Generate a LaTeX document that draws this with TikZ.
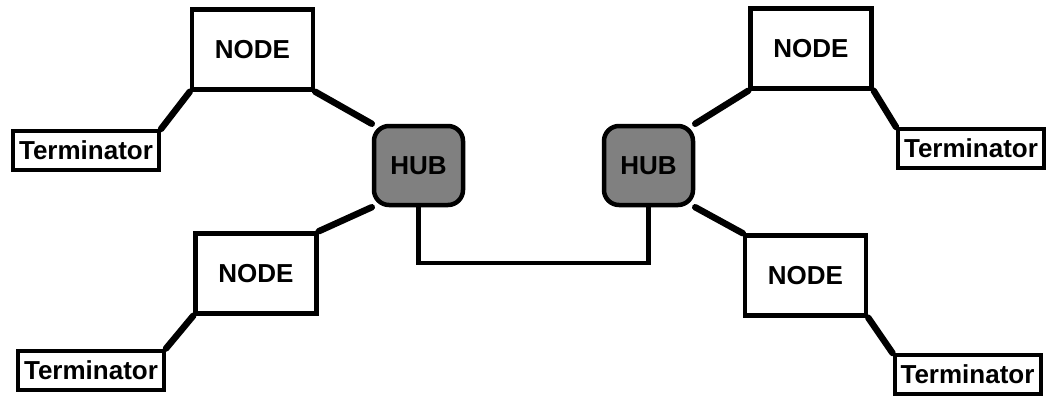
\documentclass[tikz,border=0pt]{standalone}
\usepackage{fontspec}
\setmainfont{Liberation Sans}
\pgfdeclarelayer{foreground}
\pgfsetlayers{main,foreground}
\begin{document}
\begin{tikzpicture}[x=1pt,y=-1pt,
  box/.style={draw=black, line width=4.5pt, fill=white, inner sep=0pt, font=\fontsize{26}{30}\selectfont\bfseries},
  nodebox/.style={box, minimum width=121pt, minimum height=80pt},
  termbox/.style={box, line width=4pt, minimum width=146pt, minimum height=39pt},
  hubbox/.style={box, fill=hubgray, rounded corners=15pt, minimum width=89pt, minimum height=79pt},
  wire/.style={line width=6.5pt, line cap=round},
  link/.style={line width=4.5pt, line join=miter}]
\definecolor{hubgray}{HTML}{808080}
\useasboundingbox (0,0) rectangle (1048,396);
\node[nodebox] (n1) at (252.5,49.5) {NODE};
\node[termbox] (t1) at (86,150.5) {Terminator};
\node[nodebox] (n2) at (256,273.5) {NODE};
\node[termbox] (t2) at (91,370) {Terminator};
\begin{pgfonlayer}{foreground}
\node[hubbox] (h1) at (418.5,165.5) {HUB};
\node[hubbox] (h2) at (648.5,165.5) {HUB};
\end{pgfonlayer}
\node[nodebox] (n3) at (811,48.5) {NODE};
\node[termbox] (t3) at (971,148.5) {Terminator};
\node[nodebox] (n4) at (805.5,275.5) {NODE};
\node[termbox] (t4) at (967.5,374.5) {Terminator};
\coordinate (c1) at (h1.south |- 0,263);
\coordinate (c2) at (h2.south |- 0,263);
\draw[wire] (n1.south west) -- (t1.north east);
\draw[wire] (n1.south east) -- (h1.north west);
\draw[wire] (h1.south west) -- (n2.north east);
\draw[wire] (n2.south west) -- (t2.north east);
\draw[wire] (h2.north east) -- (n3.south west);
\draw[wire] (n3.south east) -- (t3.north west);
\draw[wire] (h2.south east) -- (n4.north west);
\draw[wire] (n4.south east) -- (t4.north west);
\draw[link] (h1.south) -- (c1) -- (c2) -- (h2.south);
\end{tikzpicture}
\end{document}
